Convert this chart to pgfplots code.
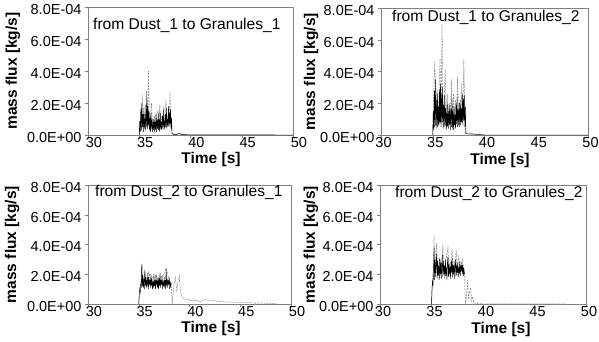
\documentclass[border=0pt]{standalone}
\usepackage{pgfplots}
\usepackage{pgfplotstable}
\pgfplotsset{compat=1.18}
\usepackage{fontspec}
\setmainfont{Liberation Sans}

\pgfplotstableread{
t y
35.00 0
35.05 0.9e-4
35.10 0.2e-4
35.15 1.6e-4
35.20 0.3e-4
35.25 2.0e-4
35.30 0.5e-4
35.35 1.3e-4
35.40 0.2e-4
35.45 1.7e-4
35.50 0.4e-4
35.55 1.0e-4
35.60 0.3e-4
35.65 1.9e-4
35.70 0.5e-4
35.75 2.3e-4
35.80 0.4e-4
35.85 1.8e-4
35.90 0.6e-4
35.95 1.5e-4
36.00 0.3e-4
36.05 1.1e-4
36.10 0.2e-4
36.15 1.4e-4
36.20 0.4e-4
36.25 1.0e-4
36.30 0.2e-4
36.35 0.8e-4
36.40 0.3e-4
36.45 1.2e-4
36.50 0.2e-4
36.55 0.8e-4
36.60 0.3e-4
36.65 1.3e-4
36.70 0.2e-4
36.75 0.9e-4
36.80 0.4e-4
36.85 1.5e-4
36.90 0.3e-4
36.95 1.0e-4
37.00 0.2e-4
37.05 1.4e-4
37.10 0.4e-4
37.15 0.8e-4
37.20 0.3e-4
37.25 1.2e-4
37.30 0.5e-4
37.35 1.6e-4
37.40 0.3e-4
37.45 0.9e-4
37.50 0.4e-4
37.55 1.3e-4
37.60 0.5e-4
37.65 1.7e-4
37.70 0.4e-4
37.75 1.0e-4
37.80 0.6e-4
37.85 1.8e-4
37.90 0.5e-4
37.95 1.4e-4
38.00 0.7e-4
38.05 1.6e-4
38.10 0.4e-4
38.15 1.1e-4
38.20 0.1e-4
38.30 0.03e-4
38.60 0.02e-4
38.90 0.1e-4
39.10 0.03e-4
39.50 0.02e-4
40.00 0.01e-4
45.00 0.005e-4
50.00 0
}\blackA

\pgfplotstableread{
t y
35.00 0
35.10 1.0e-4
35.20 0.3e-4
35.30 2.6e-4
35.40 0.5e-4
35.50 1.4e-4
35.60 0.4e-4
35.70 2.8e-4
35.80 0.8e-4
35.90 4.0e-4
36.00 0.5e-4
36.10 1.2e-4
36.20 2.0e-4
36.30 0.4e-4
36.40 1.0e-4
36.50 0.3e-4
36.60 1.4e-4
36.70 0.4e-4
36.80 1.0e-4
36.90 0.3e-4
37.00 1.9e-4
37.10 0.5e-4
37.20 1.2e-4
37.30 0.4e-4
37.40 1.8e-4
37.50 0.6e-4
37.60 2.2e-4
37.70 0.5e-4
37.80 1.3e-4
37.90 0.6e-4
38.00 2.7e-4
38.10 0.5e-4
38.20 0.1e-4
38.50 0.05e-4
39.00 0.1e-4
39.30 0.02e-4
40.00 0
}\grayA

\pgfplotstableread{
t y
35.00 0
35.05 1.5e-4
35.10 0.3e-4
35.15 2.8e-4
35.20 0.5e-4
35.25 3.5e-4
35.30 0.6e-4
35.35 2.2e-4
35.40 0.4e-4
35.45 2.6e-4
35.50 0.5e-4
35.55 1.8e-4
35.60 0.6e-4
35.65 2.9e-4
35.70 0.7e-4
35.75 3.2e-4
35.80 0.5e-4
35.85 2.6e-4
35.90 0.8e-4
35.95 3.0e-4
36.00 0.4e-4
36.05 1.9e-4
36.10 0.5e-4
36.15 2.5e-4
36.20 0.6e-4
36.25 1.7e-4
36.30 0.3e-4
36.35 1.4e-4
36.40 0.5e-4
36.45 2.0e-4
36.50 0.4e-4
36.55 1.5e-4
36.60 0.6e-4
36.65 1.9e-4
36.70 0.3e-4
36.75 1.6e-4
36.80 0.5e-4
36.85 2.3e-4
36.90 0.4e-4
36.95 1.5e-4
37.00 0.3e-4
37.05 1.8e-4
37.10 0.6e-4
37.15 1.3e-4
37.20 0.4e-4
37.25 1.9e-4
37.30 0.7e-4
37.35 2.4e-4
37.40 0.5e-4
37.45 1.6e-4
37.50 0.6e-4
37.55 2.0e-4
37.60 0.5e-4
37.65 2.2e-4
37.70 0.6e-4
37.75 1.7e-4
37.80 0.8e-4
37.85 2.6e-4
37.90 0.6e-4
37.95 2.3e-4
38.00 0.9e-4
38.05 2.5e-4
38.10 0.5e-4
38.15 1.8e-4
38.20 0.1e-4
38.30 0.08e-4
38.60 0.08e-4
39.00 0.06e-4
39.40 0.03e-4
40.00 0
50.00 0
}\blackB

\pgfplotstableread{
t y
35.00 0
35.10 2.9e-4
35.20 4.7e-4
35.30 1.0e-4
35.40 3.0e-4
35.50 0.8e-4
35.60 2.5e-4
35.70 4.8e-4
35.80 1.5e-4
35.90 7.0e-4
36.00 1.0e-4
36.10 2.0e-4
36.20 4.2e-4
36.30 1.0e-4
36.40 2.6e-4
36.50 0.8e-4
36.60 2.0e-4
36.70 0.7e-4
36.80 3.5e-4
36.90 1.0e-4
37.00 2.6e-4
37.10 0.8e-4
37.20 2.2e-4
37.30 1.0e-4
37.40 3.7e-4
37.50 0.8e-4
37.60 2.0e-4
37.70 1.0e-4
37.80 3.3e-4
37.90 1.0e-4
38.00 4.8e-4
38.10 1.0e-4
38.20 0.1e-4
38.50 0.05e-4
39.50 0.02e-4
40.00 0
}\grayB

\pgfplotstableread{
t y
35.00 0
35.05 0.6e-4
35.10 1.0e-4
35.15 0.8e-4
35.20 1.4e-4
35.25 1.1e-4
35.30 2.7e-4
35.35 1.2e-4
35.40 1.9e-4
35.45 1.1e-4
35.50 1.7e-4
35.55 1.0e-4
35.60 2.3e-4
35.65 1.2e-4
35.70 1.8e-4
35.75 1.1e-4
35.80 1.6e-4
35.85 1.2e-4
35.90 2.1e-4
35.95 1.0e-4
36.00 1.8e-4
36.05 1.3e-4
36.10 1.6e-4
36.15 1.1e-4
36.20 2.0e-4
36.25 1.2e-4
36.30 1.7e-4
36.35 1.0e-4
36.40 1.5e-4
36.45 1.1e-4
36.50 1.9e-4
36.55 1.2e-4
36.60 1.6e-4
36.65 1.0e-4
36.70 2.0e-4
36.75 1.3e-4
36.80 1.5e-4
36.85 1.1e-4
36.90 1.8e-4
36.95 1.0e-4
37.00 1.7e-4
37.05 1.2e-4
37.10 2.1e-4
37.15 1.1e-4
37.20 1.6e-4
37.25 1.3e-4
37.30 1.9e-4
37.35 1.0e-4
37.40 1.5e-4
37.45 1.2e-4
37.50 1.8e-4
37.55 1.1e-4
37.60 1.6e-4
37.65 1.0e-4
37.70 2.4e-4
37.75 1.2e-4
37.80 1.7e-4
37.85 1.1e-4
37.90 1.6e-4
37.95 1.3e-4
38.00 1.8e-4
38.05 1.0e-4
38.10 1.5e-4
38.15 1.2e-4
38.20 1.4e-4
}\blackC

\pgfplotstableread{
t y
35.00 0
35.10 1.1e-4
35.20 1.3e-4
35.30 2.6e-4
35.40 1.4e-4
35.60 2.2e-4
35.80 1.5e-4
36.00 2.2e-4
36.20 1.5e-4
36.50 2.0e-4
37.00 1.7e-4
37.50 2.0e-4
37.70 2.4e-4
38.00 1.6e-4
38.20 1.4e-4
38.30 0.0
38.45 1.2e-4
38.60 1.8e-4
38.75 0.9e-4
38.85 1.4e-4
39.00 1.9e-4
39.10 0.9e-4
39.25 0.5e-4
39.40 0.4e-4
39.60 0.3e-4
39.80 0.35e-4
40.00 0.25e-4
40.30 0.2e-4
40.60 0.25e-4
41.00 0.15e-4
41.30 0.2e-4
41.60 0.3e-4
42.00 0.2e-4
42.40 0.25e-4
42.80 0.15e-4
43.20 0.2e-4
43.60 0.12e-4
44.00 0.15e-4
44.50 0.1e-4
45.00 0.12e-4
45.50 0.08e-4
46.00 0.1e-4
46.50 0.05e-4
47.00 0.08e-4
47.50 0.04e-4
48.00 0.05e-4
48.50 0.02e-4
48.60 0
}\grayC

\pgfplotstableread{
t y
35.00 0
35.05 1.0e-4
35.10 1.6e-4
35.15 1.2e-4
35.20 2.2e-4
35.25 3.8e-4
35.30 1.6e-4
35.35 3.0e-4
35.40 1.8e-4
35.45 2.7e-4
35.50 3.4e-4
35.55 1.7e-4
35.60 2.9e-4
35.65 1.9e-4
35.70 2.6e-4
35.75 1.6e-4
35.80 3.1e-4
35.85 2.0e-4
35.90 2.8e-4
35.95 1.7e-4
36.00 2.5e-4
36.05 3.3e-4
36.10 1.8e-4
36.15 2.9e-4
36.20 2.0e-4
36.25 2.6e-4
36.30 1.7e-4
36.35 3.0e-4
36.40 1.9e-4
36.45 2.5e-4
36.50 1.6e-4
36.55 2.8e-4
36.60 3.2e-4
36.65 1.8e-4
36.70 2.7e-4
36.75 2.0e-4
36.80 2.5e-4
36.85 1.7e-4
36.90 2.9e-4
36.95 2.1e-4
37.00 3.1e-4
37.05 1.8e-4
37.10 2.6e-4
37.15 2.0e-4
37.20 2.9e-4
37.25 1.7e-4
37.30 2.4e-4
37.35 3.0e-4
37.40 1.9e-4
37.45 2.6e-4
37.50 2.1e-4
37.55 2.8e-4
37.60 1.8e-4
37.65 2.5e-4
37.70 2.0e-4
37.75 2.9e-4
37.80 1.9e-4
37.85 2.6e-4
37.90 2.2e-4
37.95 2.8e-4
38.00 2.0e-4
38.05 2.6e-4
38.10 1.9e-4
38.15 2.4e-4
38.20 2.0e-4
}\blackD

\pgfplotstableread{
t y
35.00 0
35.10 1.8e-4
35.20 2.5e-4
35.25 4.7e-4
35.30 2.0e-4
35.40 3.2e-4
35.50 4.1e-4
35.60 2.2e-4
35.80 3.0e-4
36.00 2.5e-4
36.10 4.0e-4
36.20 2.2e-4
36.40 3.0e-4
36.60 3.8e-4
36.70 2.1e-4
36.90 3.0e-4
37.00 3.7e-4
37.10 2.0e-4
37.30 2.8e-4
37.40 3.6e-4
37.50 2.3e-4
37.60 3.2e-4
37.80 2.4e-4
38.00 3.0e-4
38.20 2.0e-4
38.30 0.0
38.40 0.6e-4
38.50 1.6e-4
38.60 0.3e-4
38.70 0.8e-4
38.80 1.1e-4
38.90 0.2e-4
39.00 0.5e-4
39.10 0.1e-4
39.30 0.05e-4
39.60 0.02e-4
40.00 0.01e-4
45.00 0.005e-4
48.00 0
}\grayD

\pgfplotsset{
  panel/.style={
    scale only axis,
    anchor=south west,
    xmin=30, xmax=50, ymin=0, ymax=8e-4,
    xtick={30,35,40,45,50},
    ytick={0,2e-4,4e-4,6e-4,8e-4},
    yticklabels={0.0E+00,2.0E-04,4.0E-04,6.0E-04,8.0E-04},
    scaled y ticks=false,
    tick align=outside,
    tick pos=left,
    major tick length=3pt,
    axis line style={gray},
    every tick/.style={gray},
    /pgf/number format/assume math mode=true,
    tick label style={font=\fontsize{14.5}{14.5}\selectfont, black},
    yticklabel style={yshift=-2.5pt},
    xlabel={Time [s]},
    ylabel={mass flux [kg/s]},
    label style={font=\bfseries\fontsize{15.5}{15.5}\selectfont},
    clip mode=individual,
  },
  blk/.style={black, line width=0.45pt},
  gry/.style={gray!85, line width=0.55pt, dash pattern=on 2pt off 1pt},
}
\tikzset{ttl/.style={anchor=west, inner sep=0pt, font=\fontsize{15.6}{15.6}\selectfont}}

\begin{document}
\begin{tikzpicture}[x=1pt,y=1pt]
\useasboundingbox (0,0) rectangle (599,341);

\begin{axis}[panel, at={(88pt,206pt)}, width=205pt, height=128pt,
  xticklabel style={xshift=6pt, yshift=4pt},
  xlabel style={at={(rel axis cs:0.60,-0.19)}, anchor=center},
  ylabel style={at={(rel axis cs:-0.366,0.5)}, anchor=center}]
  \addplot[gry] table[x=t,y=y] {\grayA};
  \addplot[blk] table[x=t,y=y] {\blackA};
  \node[ttl] at ([xshift=5pt,yshift=-18pt]rel axis cs:0,1) {from Dust\_1 to Granules\_1};
\end{axis}

\begin{axis}[panel, at={(381pt,206pt)}, width=207pt, height=127pt,
  xticklabel style={xshift=2.5pt, yshift=4pt},
  xlabel style={at={(rel axis cs:0.575,-0.2)}, anchor=center},
  ylabel style={at={(rel axis cs:-0.338,0.5)}, anchor=center}]
  \addplot[gry] table[x=t,y=y] {\grayB};
  \addplot[blk] table[x=t,y=y] {\blackB};
  \node[ttl] at ([xshift=11pt,yshift=-9pt]rel axis cs:0,1) {from Dust\_1 to Granules\_2};
\end{axis}

\begin{axis}[panel, at={(88pt,37pt)}, width=203pt, height=119pt,
  xticklabel style={xshift=6pt, yshift=4pt},
  xlabel style={at={(rel axis cs:0.606,-0.205)}, anchor=center},
  ylabel style={at={(rel axis cs:-0.374,0.5)}, anchor=center}]
  \addplot[gry] table[x=t,y=y] {\grayC};
  \addplot[blk] table[x=t,y=y] {\blackC};
  \node[ttl] at ([xshift=7pt,yshift=-7pt]rel axis cs:0,1) {from Dust\_2 to Granules\_1};
\end{axis}

\begin{axis}[panel, at={(380pt,37pt)}, width=206pt, height=119pt,
  xticklabel style={xshift=3pt, yshift=4pt},
  xlabel style={at={(rel axis cs:0.587,-0.21)}, anchor=center},
  ylabel style={at={(rel axis cs:-0.335,0.5)}, anchor=center}]
  \addplot[gry] table[x=t,y=y] {\grayD};
  \addplot[blk] table[x=t,y=y] {\blackD};
  \node[ttl] at ([xshift=15pt,yshift=-8pt]rel axis cs:0,1) {from Dust\_2 to Granules\_2};
\end{axis}
\end{tikzpicture}
\end{document}
